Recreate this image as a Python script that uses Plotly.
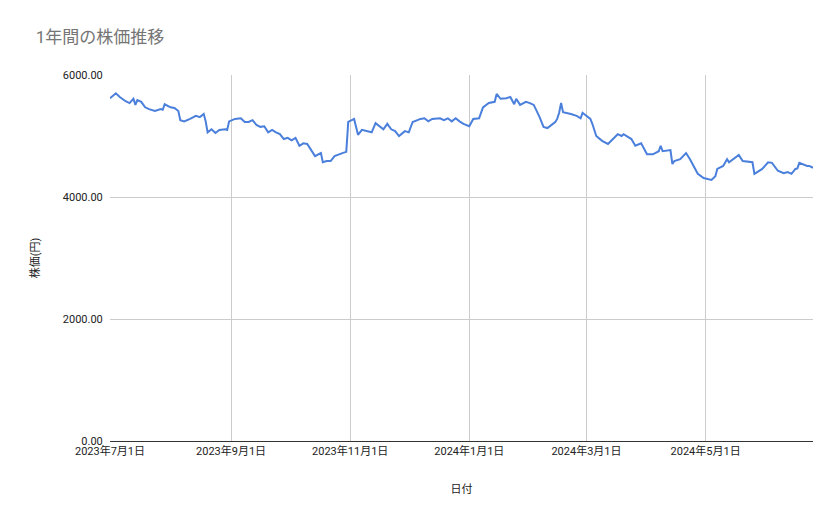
import plotly.graph_objects as go

dates = [
    "2023-07-01", "2023-07-04", "2023-07-06", "2023-07-09", "2023-07-11", "2023-07-13", "2023-07-14",
    "2023-07-15", "2023-07-17", "2023-07-19", "2023-07-21", "2023-07-24", "2023-07-27", "2023-07-28",
    "2023-07-29", "2023-08-01", "2023-08-03", "2023-08-05", "2023-08-06", "2023-08-08", "2023-08-11",
    "2023-08-14", "2023-08-16", "2023-08-18", "2023-08-19", "2023-08-20", "2023-08-22", "2023-08-24",
    "2023-08-26", "2023-08-29", "2023-08-30", "2023-08-31", "2023-09-03", "2023-09-06", "2023-09-08",
    "2023-09-10", "2023-09-12", "2023-09-14", "2023-09-16", "2023-09-18", "2023-09-20", "2023-09-22",
    "2023-09-24", "2023-09-26", "2023-09-28", "2023-09-30", "2023-10-02", "2023-10-04", "2023-10-06",
    "2023-10-08", "2023-10-10", "2023-10-12", "2023-10-14", "2023-10-17", "2023-10-18", "2023-10-20",
    "2023-10-22", "2023-10-24", "2023-10-26", "2023-10-28", "2023-10-30", "2023-10-31", "2023-11-03",
    "2023-11-05", "2023-11-07", "2023-11-10", "2023-11-12", "2023-11-14", "2023-11-16", "2023-11-18",
    "2023-11-20", "2023-11-22", "2023-11-24", "2023-11-26", "2023-11-29", "2023-12-01", "2023-12-03",
    "2023-12-05", "2023-12-07", "2023-12-09", "2023-12-11", "2023-12-13", "2023-12-15", "2023-12-17",
    "2023-12-19", "2023-12-21", "2023-12-23", "2023-12-25", "2023-12-27", "2023-12-29", "2024-01-01",
    "2024-01-03", "2024-01-06", "2024-01-08", "2024-01-11", "2024-01-14", "2024-01-15", "2024-01-17",
    "2024-01-20", "2024-01-22", "2024-01-24", "2024-01-25", "2024-01-27", "2024-01-30", "2024-02-01",
    "2024-02-03", "2024-02-06", "2024-02-08", "2024-02-10", "2024-02-12", "2024-02-14", "2024-02-15",
    "2024-02-16", "2024-02-17", "2024-02-18", "2024-02-22", "2024-02-25", "2024-02-27", "2024-02-28",
    "2024-03-03", "2024-03-04", "2024-03-06", "2024-03-09", "2024-03-12", "2024-03-17", "2024-03-19",
    "2024-03-20", "2024-03-24", "2024-03-26", "2024-03-29", "2024-04-01", "2024-04-04", "2024-04-07",
    "2024-04-08", "2024-04-09", "2024-04-13", "2024-04-14", "2024-04-15", "2024-04-18", "2024-04-21",
    "2024-04-23", "2024-04-27", "2024-04-30", "2024-05-04", "2024-05-06", "2024-05-07", "2024-05-10",
    "2024-05-12", "2024-05-13", "2024-05-18", "2024-05-20", "2024-05-25", "2024-05-26", "2024-05-30",
    "2024-06-02", "2024-06-04", "2024-06-07", "2024-06-10", "2024-06-12", "2024-06-14", "2024-06-16",
    "2024-06-17", "2024-06-18", "2024-06-22", "2024-06-23", "2024-06-25",
]
prices = [
    5620, 5700, 5640, 5570, 5540, 5610, 5510,
    5590, 5560, 5470, 5440, 5410, 5440, 5430,
    5520, 5470, 5460, 5410, 5260, 5240, 5280,
    5330, 5310, 5360, 5240, 5060, 5110, 5050,
    5100, 5110, 5100, 5240, 5280, 5290, 5230,
    5230, 5260, 5180, 5150, 5160, 5060, 5100,
    5060, 5030, 4950, 4970, 4930, 4970, 4840,
    4880, 4870, 4770, 4670, 4720, 4570, 4590,
    4590, 4670, 4700, 4720, 4740, 5230, 5280,
    5020, 5100, 5080, 5060, 5210, 5160, 5110,
    5200, 5110, 5080, 5000, 5080, 5060, 5230,
    5260, 5280, 5290, 5240, 5280, 5280, 5290,
    5260, 5290, 5240, 5290, 5240, 5200, 5160,
    5280, 5290, 5470, 5540, 5560, 5690, 5610,
    5620, 5640, 5520, 5610, 5510, 5560, 5540,
    5510, 5310, 5150, 5130, 5180, 5230, 5280,
    5380, 5540, 5390, 5360, 5330, 5290, 5380,
    5280, 5200, 5000, 4920, 4870, 5030, 5000,
    5030, 4950, 4840, 4880, 4700, 4700, 4750,
    4840, 4750, 4770, 4540, 4590, 4620, 4720,
    4620, 4380, 4310, 4280, 4340, 4460, 4510,
    4620, 4570, 4690, 4590, 4570, 4380, 4460,
    4570, 4560, 4430, 4390, 4410, 4380, 4460,
    4470, 4560, 4510, 4510, 4480,
]
tick_dates = ["2023-07-01", "2023-09-01", "2023-11-01", "2024-01-01", "2024-03-01", "2024-05-01"]
tick_labels = ["2023年7月1日", "2023年9月1日", "2023年11月1日", "2024年1月1日", "2024年3月1日", "2024年5月1日"]

fig = go.Figure(go.Scatter(x=dates, y=prices, mode="lines",
                           line=dict(color="#4a7fdc", width=2)))

font = "Roboto, 'Noto Sans CJK JP', sans-serif"
fig.update_layout(
    width=839, height=519,
    paper_bgcolor="white", plot_bgcolor="white",
    margin=dict(l=102, r=34, t=67, b=86),
    title=dict(text="1年間の株価推移", x=0.033, y=0.955, xanchor="left", yanchor="top",
               font=dict(family=font, size=17, color="#757575")),
    font=dict(family=font, size=11, color="#222222"),
    showlegend=False,
)
fig.update_xaxes(range=["2023-07-01", "2024-06-25"], tickvals=tick_dates, ticktext=tick_labels,
                 showgrid=True, gridcolor="#cccccc", showline=True, linecolor="#333333",
                 ticks="", title=dict(text="日付", font=dict(size=11), standoff=28))
fig.update_yaxes(range=[0, 6000], dtick=2000, tickformat=".2f", showgrid=True,
                 gridcolor="#cccccc", zeroline=False, ticks="outside", ticklen=4,
                 tickcolor="rgba(0,0,0,0)",
                 title=dict(text="株価(円)", font=dict(size=11), standoff=20))

fig.write_html("out.html")
